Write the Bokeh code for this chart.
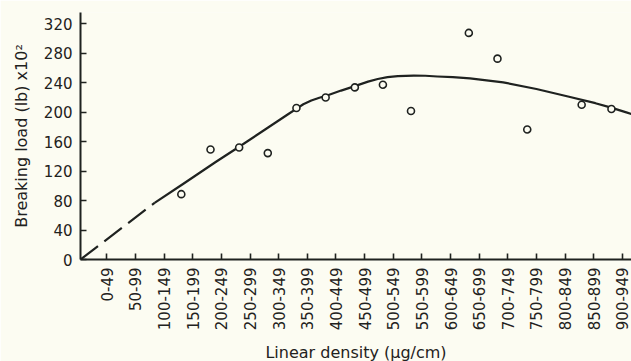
from math import pi
from bokeh.plotting import figure
from bokeh.models import FixedTicker, Range1d
from bokeh.embed import file_html
from bokeh.resources import INLINE

# ---- data ----
categories = ["0-49", "50-99", "100-149", "150-199", "200-249", "250-299",
              "300-349", "350-399", "400-449", "450-499", "500-549", "550-599",
              "600-649", "650-699", "700-749", "750-799", "800-849", "850-899",
              "900-949"]
category_ticks = [50, 100, 150, 200, 250, 300, 350, 400, 450, 500, 550, 600,
                  650, 700, 750, 800, 850, 900, 950]
load_ticks = [0, 40, 80, 120, 160, 200, 240, 280, 320]

point_density = [180, 231, 281, 331, 381, 432, 483, 532, 581, 682, 732, 784, 879, 931]
point_load = [88.6, 149.2, 151.9, 144.3, 205.4, 219.8, 233.4, 237.1, 201.4,
              307.3, 272.4, 176.4, 209.9, 204.1]

dash_density = [4, 134]
dash_load = [0, 77.2]

curve_density = [134, 183, 240, 281, 327, 367, 382, 393, 407, 421, 437, 459,
                 483, 506, 523, 540, 558, 586, 606, 627, 654, 684, 742, 800,
                 857, 903, 929, 957, 973]
curve_load = [77.2, 102.4, 132.2, 152.9, 176.6, 197.3, 204.9, 210.6, 215.6,
              219.3, 223.1, 229.1, 235.1, 241.2, 244.8, 247.3, 248.6, 249.3,
              249.2, 248.2, 247.3, 245.7, 240.2, 231.3, 220.8, 212.0, 206.3,
              199.5, 195.7]

# ---- styling ----
BG = "#fcfcf2"
INK = "#1f2220"
FONT = "DejaVu Sans"

p = figure(frame_width=551, frame_height=247,
           x_range=Range1d(4, 966), y_range=Range1d(0, 335),
           output_backend="svg", toolbar_location=None,
           min_border_left=80, min_border_right=0, min_border_top=12,
           min_border_bottom=102,
           background_fill_color=BG, border_fill_color=BG)
p.outline_line_color = None
p.grid.visible = False

p.line(dash_density, dash_load, line_color=INK, line_width=2.2, line_dash="22 8")
p.line(curve_density, curve_load, line_color=INK, line_width=2.2,
       line_join="round")
p.scatter(point_density, point_load, marker="circle", size=7,
          fill_color=BG, line_color=INK, line_width=1.6)

xa = p.xaxis[0]
xa.ticker = FixedTicker(ticks=category_ticks)
xa.major_label_overrides = {t: c for t, c in zip(category_ticks, categories)}
xa.major_label_orientation = pi / 2
xa.axis_label = "Linear density (\u00b5g/cm)"

ya = p.yaxis[0]
ya.ticker = FixedTicker(ticks=load_ticks)
ya.axis_label = "Breaking load (lb) x10\u00b2"

for ax in (xa, ya):
    ax.axis_line_color = INK
    ax.axis_line_width = 2
    ax.major_tick_line_color = INK
    ax.major_tick_line_width = 1.6
    ax.major_tick_in = 6
    ax.major_tick_out = 0
    ax.minor_tick_line_color = None
    ax.major_label_standoff = 8
    ax.major_label_text_font = FONT
    ax.major_label_text_font_size = "15px"
    ax.major_label_text_color = INK
    ax.axis_label_text_font = FONT
    ax.axis_label_text_font_size = "16px"
    ax.axis_label_text_font_style = "normal"
    ax.axis_label_text_color = INK
    ax.axis_label_standoff = 10

open("out.html", "w").write(file_html(p, INLINE))
